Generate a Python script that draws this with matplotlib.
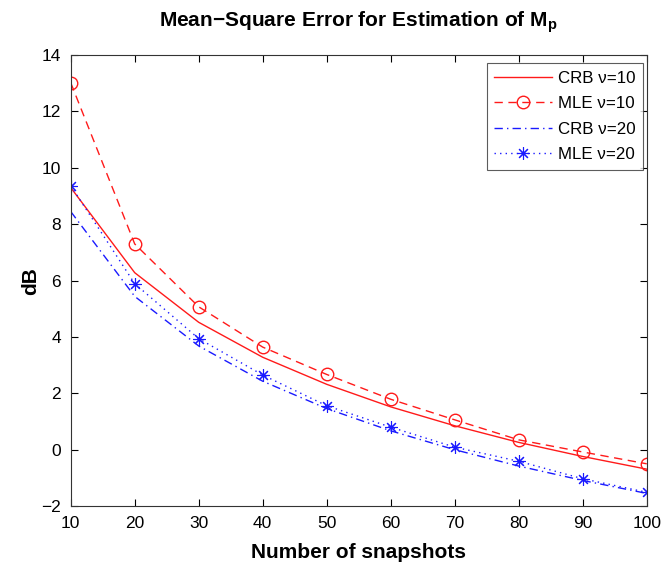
import numpy as np
import matplotlib
matplotlib.use('Agg')
from matplotlib import pyplot as plt

plt.rcParams['font.family'] = ['Liberation Sans', 'DejaVu Sans']
plt.rcParams['mathtext.fontset'] = 'custom'
plt.rcParams['mathtext.rm'] = 'Liberation Sans'
plt.rcParams['mathtext.bf'] = 'Liberation Sans:bold'

snapshots = [10, 20, 30, 40, 50, 60, 70, 80, 90, 100]
crb_nu10 = [9.30, 6.28, 4.52, 3.28, 2.32, 1.52, 0.85, 0.26, -0.24, -0.69]
mle_nu10 = [13.02, 7.30, 5.07, 3.64, 2.67, 1.79, 1.06, 0.35, -0.08, -0.50]
crb_nu20 = [8.45, 5.44, 3.68, 2.43, 1.46, 0.67, 0.00, -0.58, -1.09, -1.55]
mle_nu20 = [9.37, 5.89, 3.94, 2.65, 1.56, 0.80, 0.09, -0.41, -1.03, -1.51]

fig = plt.figure(figsize=(6.64, 5.68), dpi=100)
ax = fig.add_axes([0.1065, 0.109, 0.8675, 0.794])

red = '#ff1a1a'
blue = '#1a1aff'
ax.plot(snapshots, crb_nu10, '-', color=red, lw=1.0, label='CRB ν=10')
ax.plot(snapshots, mle_nu10, '--', color=red, lw=1.0, dashes=(6, 4),
        marker='o', ms=9, mfc='none', mec=red, mew=1.0, label='MLE ν=10')
ax.plot(snapshots, crb_nu20, '-.', color=blue, lw=1.0, dashes=(6, 3, 1, 3),
        label='CRB ν=20')
# MATLAB-style '*' marker: 8-armed asterisk
ax.plot(snapshots, mle_nu20, ':', color=blue, lw=1.0, dashes=(1, 3),
        marker=(8, 2, 0), ms=9, mfc=blue, mec=blue, mew=0.8, label='MLE ν=20')

ax.set_xlim(10, 100)
ax.set_ylim(-2, 14)
ax.set_xticks(snapshots)
ax.set_yticks(np.arange(-2, 15, 2))
ax.tick_params(direction='in', top=True, right=True, length=5, labelsize=12.5, width=0.8)
ax.tick_params(axis='x', pad=7)
ax.tick_params(axis='y', pad=7)
for s in ax.spines.values():
    s.set_linewidth(0.8)
    s.set_color('#333333')

ax.set_xlabel('Number of snapshots', fontsize=15, fontweight='bold', labelpad=9)
ax.set_ylabel('dB', fontsize=15, fontweight='bold', labelpad=1)
ax.set_title('Mean\u2212Square Error for Estimation of M$_\\mathbf{p}$',
             fontsize=15, fontweight='bold', pad=21)

leg = ax.legend(loc='upper right', bbox_to_anchor=(643 / 664, 1 - 63 / 568),
                bbox_transform=fig.transFigure, borderaxespad=0,
                fontsize=12.2, frameon=True, fancybox=False,
                edgecolor='#333333', handlelength=3.4, handletextpad=0.35,
                labelspacing=0.62, borderpad=0.45)
leg.get_frame().set_linewidth(0.8)

fig.savefig('out.png', dpi=100)
